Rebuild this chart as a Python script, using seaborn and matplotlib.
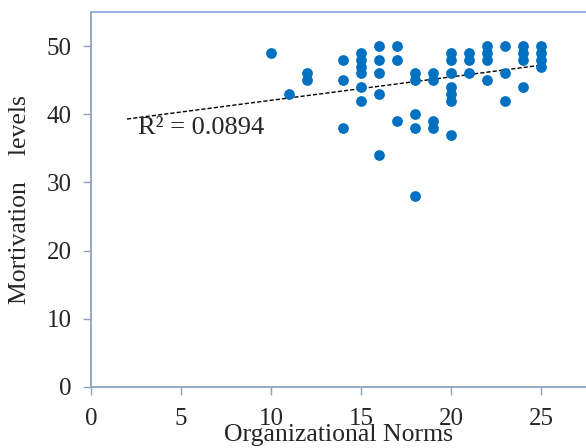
import numpy as np
import pandas as pd
import seaborn as sns
import matplotlib.pyplot as plt

#------------------------------------------------------------------------------------------------------------------------
# DATA
norms = [10, 11, 12, 12, 14, 14, 14,
         15, 15, 15, 15, 15, 15,
         16, 16, 16, 16, 16,
         17, 17, 17,
         18, 18, 18, 18, 18,
         19, 19, 19, 19,
         20, 20, 20, 20, 20, 20, 20,
         21, 21, 21,
         22, 22, 22, 22,
         23, 23, 23,
         24, 24, 24, 24,
         25, 25, 25, 25]
motivation = [49, 43, 46, 45, 48, 45, 38,
              49, 48, 47, 46, 44, 42,
              50, 48, 46, 43, 34,
              50, 48, 39,
              46, 45, 40, 38, 28,
              46, 45, 39, 38,
              49, 48, 46, 44, 43, 42, 37,
              49, 48, 46,
              50, 49, 48, 45,
              50, 46, 42,
              50, 49, 48, 44,
              50, 49, 48, 47]
# trendline as drawn in the original (Excel linear fit, forecast back to x=2)
trend_x = [2, 25]
trend_y = [39.3, 47.2]
r2_label = "R² = 0.0894"
x_ticks = [0, 5, 10, 15, 20, 25]
y_ticks = [0, 10, 20, 30, 40, 50]

df = pd.DataFrame({'norms': norms, 'motivation': motivation})
trend_df = pd.DataFrame({'x': trend_x, 'y': trend_y})

#------------------------------------------------------------------------------------------------------------------------
# PLOT
sns.set_style('white')
plt.rcParams['font.family'] = ['Liberation Serif', 'DejaVu Serif']

fig = plt.figure(figsize=(5.86, 4.48), dpi=100)
ax = fig.add_axes([0.1553, 0.1362, 0.8447, 0.837])

sns.scatterplot(data=df, x='norms', y='motivation', ax=ax, color='#0070C0',
                s=60, linewidth=0, zorder=3)
sns.lineplot(data=trend_df, x='x', y='y', ax=ax, color='black',
             linestyle=(0, (3, 1.5)), linewidth=1, zorder=2)
ax.text(2.6, 38.0, r2_label, fontsize=19, va='center', ha='left')

ax.set_xlim(0, 27.5)
ax.set_ylim(0, 55)
ax.set_xticks(x_ticks)
ax.set_yticks(y_ticks)
ax.tick_params(axis='both', labelsize=18, length=6, width=1, color='#8EA3C1',
               direction='out', left=True, bottom=True)
ax.tick_params(axis='x', pad=9)
ax.tick_params(axis='y', pad=8)

ax.set_xlabel('Organizational Norms', fontsize=18.5)
ax.set_ylabel('Mortivation    levels', fontsize=18.5)
ax.xaxis.set_label_coords(0.5, -0.098)
ax.yaxis.set_label_coords(-0.122, 0.5)

for side in ['left', 'bottom']:
    ax.spines[side].set_color('#8EA3C1')
    ax.spines[side].set_linewidth(1.3)
ax.spines['top'].set_color('#8FAADC')
ax.spines['top'].set_linewidth(1.3)
ax.spines['right'].set_visible(False)

fig.savefig('out.png', dpi=100)
